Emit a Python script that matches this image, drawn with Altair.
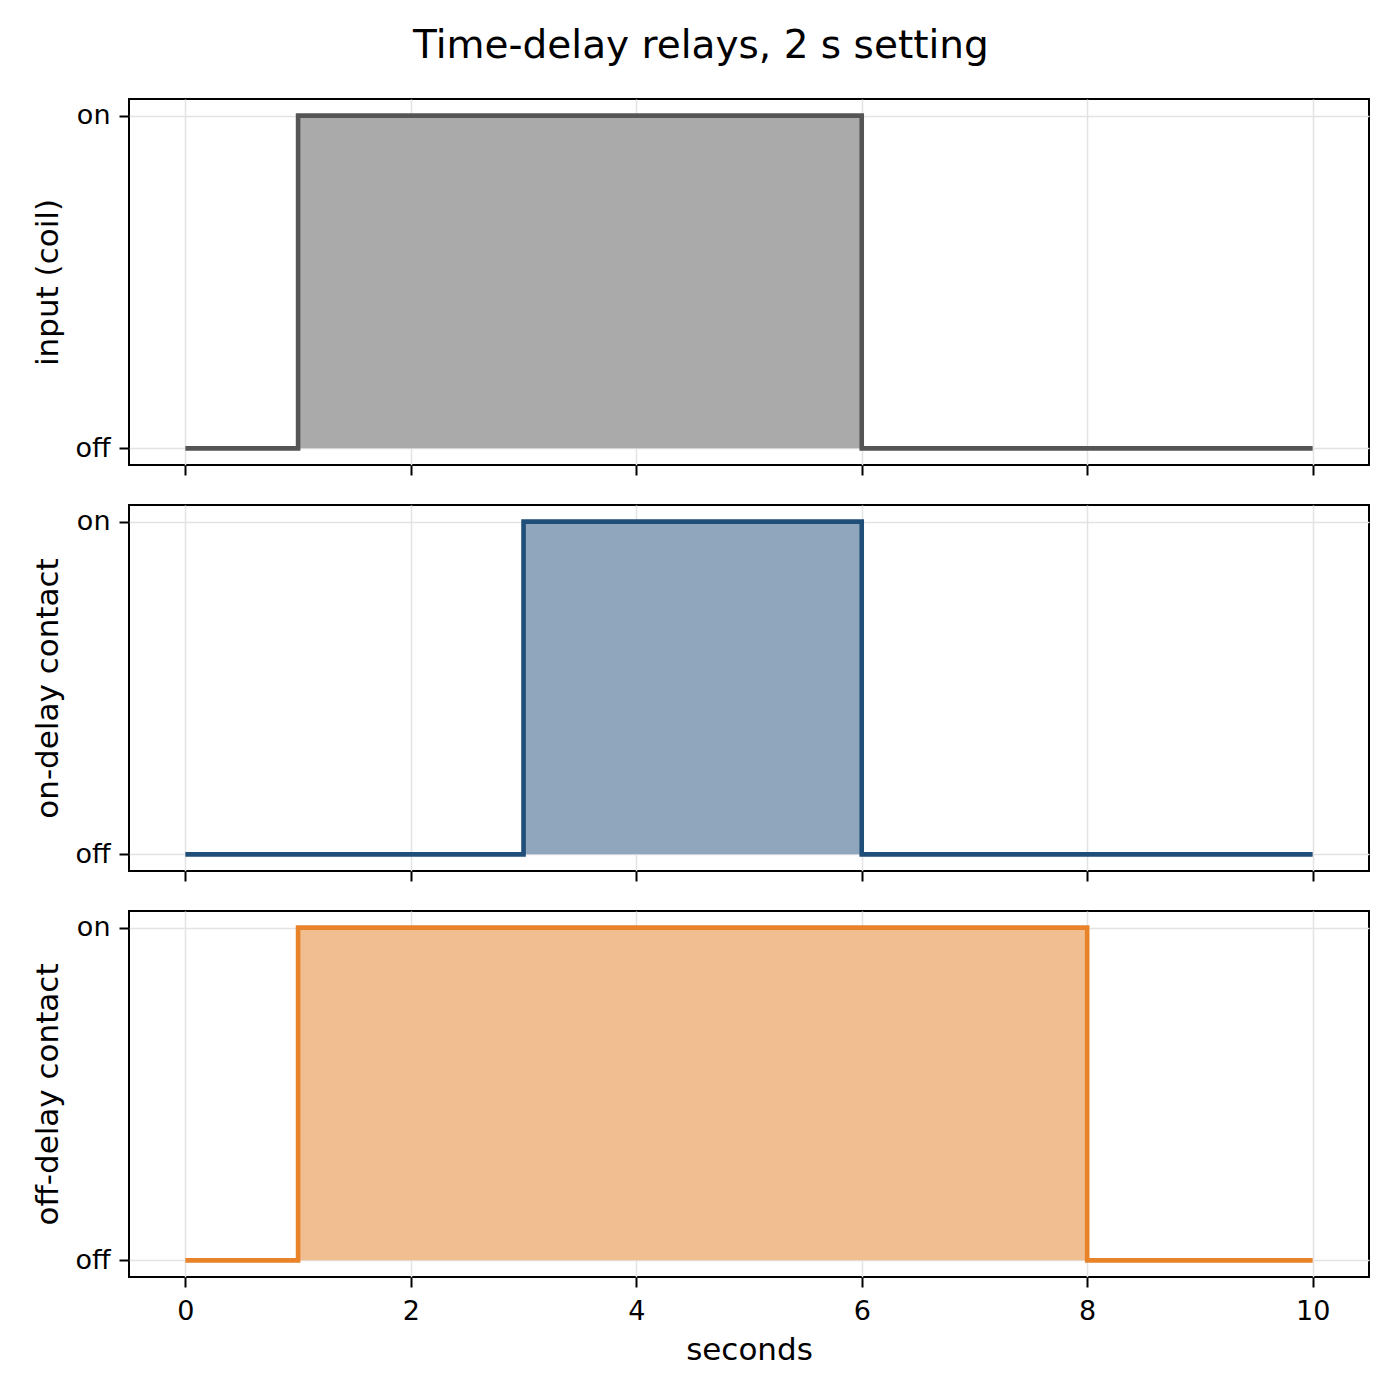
import altair as alt
import pandas as pd

# Step points (state holds from each time until the next)
TIME_INPUT = [0, 1, 6, 10]
STATE_INPUT = [0, 1, 0, 0]
TIME_ON_DELAY = [0, 3, 6, 10]
STATE_ON_DELAY = [0, 1, 0, 0]
TIME_OFF_DELAY = [0, 1, 8, 10]
STATE_OFF_DELAY = [0, 1, 0, 0]

X_TICKS = [0, 2, 4, 6, 8, 10]
Y_TICKS = [0, 1]

FONT = "DejaVu Sans"


def panel(times, states, label, line_color, fill_color, bottom=False):
    df = pd.DataFrame({"t": times, "state": states})
    x_axis = alt.Axis(
        values=X_TICKS,
        labels=bottom,
        title="seconds" if bottom else None,
        grid=True,
    )
    x = alt.X("t:Q", scale=alt.Scale(domain=[-0.5, 10.5], nice=False, zero=False), axis=x_axis)
    y = alt.Y(
        "state:Q",
        scale=alt.Scale(domain=[-0.05, 1.05], nice=False, zero=False),
        axis=alt.Axis(
            values=Y_TICKS,
            labelExpr="datum.value == 1 ? 'on' : 'off'",
            title=label,
            titlePadding=10,
        ),
    )
    base = alt.Chart(df).encode(x=x, y=y)
    area = base.mark_area(interpolate="step-after", color=fill_color, opacity=1)
    line = base.mark_line(interpolate="step-after", color=line_color, strokeWidth=4.6)
    return (area + line).properties(width=1240, height=366)


chart = (
    alt.vconcat(
        panel(TIME_INPUT, STATE_INPUT, "input (coil)", "#555555", "#aaaaaa"),
        panel(TIME_ON_DELAY, STATE_ON_DELAY, "on-delay contact", "#1f4e79", "#8fa6bc"),
        panel(TIME_OFF_DELAY, STATE_OFF_DELAY, "off-delay contact", "#e8832a", "#f0be91", bottom=True),
        spacing=27,
    )
    .properties(
        title=alt.TitleParams(
            "Time-delay relays, 2 s setting", fontSize=39, fontWeight="normal",
            font=FONT, anchor="middle", color="black", offset=32,
        ),
        padding={"left": 23, "top": 19, "right": 10, "bottom": 10},
    )
    .configure_view(stroke="black", strokeWidth=2)
    .configure_axis(
        labelFont=FONT, titleFont=FONT, labelFontSize=27, titleFontSize=31,
        titleFontWeight="normal", labelColor="black", titleColor="black",
        tickColor="black", tickSize=10, tickWidth=2, labelPadding=9,
        domain=False, gridColor="#e3e3e3", gridWidth=1.5,
    )
    .configure_axisX(titlePadding=11, labelPadding=11)
)

chart.save("out.html", embed_options={"renderer": "svg", "actions": False})
